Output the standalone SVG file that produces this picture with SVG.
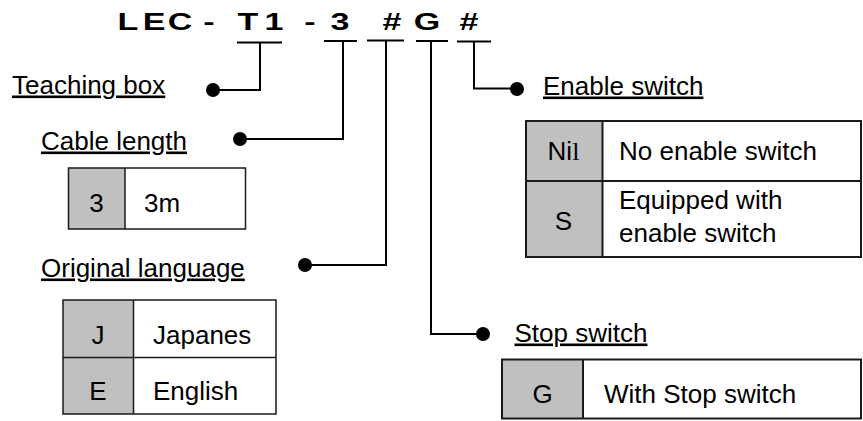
<svg xmlns="http://www.w3.org/2000/svg" width="863" height="421" viewBox="0 0 863 421">
<style>
text{font-family:"Liberation Sans",Arial,sans-serif;fill:#000}
.title{font-size:23.5px;font-weight:bold}
.lbl{font-size:26px;text-decoration:underline}
.t{font-size:26px}
.c{text-anchor:middle}
.conn{fill:none;stroke:#000;stroke-width:2}
.dot{fill:#000}
.cell{fill:#fff;stroke:#1a1a1a;stroke-width:2}
.cellt{fill:#fff;stroke:#1a1a1a;stroke-width:1.5}
.key{fill:#c0c0c0}
</style>
<rect width="863" height="421" fill="#fff"/>
<g id="model-code">
<text class="title c" transform="scale(1.45,1)" x="88.28 106.21 124.14 144.14 171.03 188.97 213.79 234.48 270.34 294.48 323.45" y="30">LEC-T1-3#G#</text>
</g>
<g id="connectors">
<path class="conn" d="M237,42.5H282M260,42.5V90H213"/>
<path class="conn" d="M324,41H357M343,41V139H240"/>
<path class="conn" d="M367,40.5H404M386,40.5V265H305"/>
<path class="conn" d="M416,41H448M431,41V334H483"/>
<path class="conn" d="M457,41.5H491M474,41.5V88.5H517"/>
<circle class="dot" cx="213" cy="90" r="7"/>
<circle class="dot" cx="240" cy="139" r="7"/>
<circle class="dot" cx="305" cy="265" r="7"/>
<circle class="dot" cx="483" cy="334" r="7"/>
<circle class="dot" cx="517" cy="89" r="7"/>
</g>
<g id="teaching-box">
<text class="lbl" x="12" y="93.5">Teaching box</text>
</g>
<g id="cable-length">
<text class="lbl" x="41" y="149.5">Cable length</text>
<rect class="key" x="68.5" y="168" width="56.5" height="61"/>
<rect class="cellt" x="68.5" y="168" width="177" height="61" fill="none" style="fill:none"/>
<line class="cellt" x1="125" y1="168" x2="125" y2="229"/>
<text class="t c" x="96.5" y="211.5">3</text>
<text class="t" x="144" y="211.5">3m</text>
</g>
<g id="original-language">
<text class="lbl" x="41" y="276.5">Original language</text>
<rect class="key" x="63" y="300" width="70.5" height="114"/>
<rect class="cellt" x="63" y="300" width="213" height="114" style="fill:none"/>
<line class="cellt" x1="133.5" y1="300" x2="133.5" y2="414"/>
<line class="cellt" x1="63" y1="357.5" x2="276" y2="357.5"/>
<text class="t c" x="98" y="344">J</text>
<text class="t" x="153" y="344">Japanes</text>
<text class="t c" x="98" y="400">E</text>
<text class="t" x="153" y="400">English</text>
</g>
<g id="enable-switch">
<text class="lbl" x="543" y="94.5">Enable switch</text>
<rect class="key" x="526" y="121" width="76.5" height="136"/>
<rect class="cell" x="526" y="121" width="335" height="136" style="fill:none"/>
<line class="cell" x1="602.5" y1="121" x2="602.5" y2="257"/>
<line class="cell" x1="526" y1="181" x2="861" y2="181"/>
<text class="t c" x="563.5" y="160">Ni<tspan style="font-family:'Liberation Serif','Times New Roman',serif">l</tspan></text>
<text class="t" x="619" y="160">No enable switch</text>
<text class="t c" x="563.5" y="230">S</text>
<text class="t" x="619" y="208.5">Equipped with</text>
<text class="t" x="619" y="242">enable switch</text>
</g>
<g id="stop-switch">
<text class="lbl" x="514.5" y="341.5">Stop switch</text>
<rect class="key" x="502" y="359.5" width="81" height="59"/>
<rect class="cell" x="502" y="359.5" width="359" height="59" style="fill:none"/>
<line class="cell" x1="583" y1="359.5" x2="583" y2="418.5"/>
<text class="t c" x="542.5" y="403">G</text>
<text class="t" x="604" y="403">With Stop switch</text>
</g>
</svg>
